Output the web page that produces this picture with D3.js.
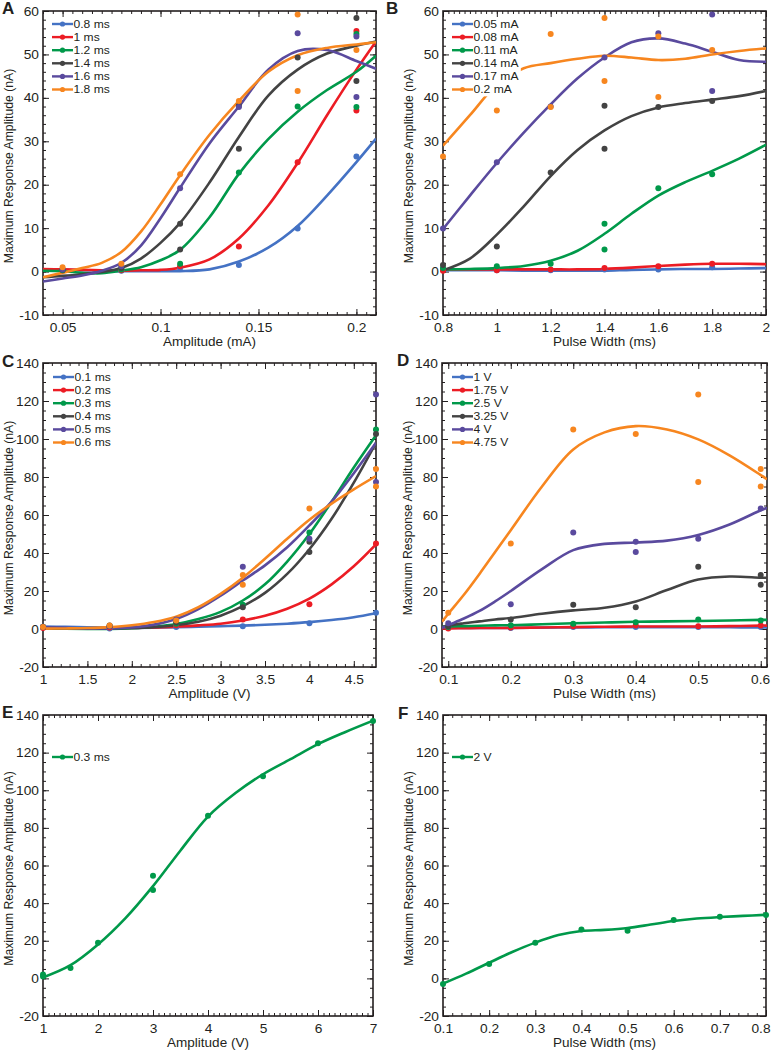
<!DOCTYPE html>
<html>
<head>
<meta charset="utf-8">
<script src="https://cdn.jsdelivr.net/npm/d3@7"></script>
<style>
  body { margin: 0; background: #fff; }
  svg { display: block; }
  text { font-family: "Liberation Sans", Arial, Helvetica, sans-serif; fill: #231f20; }
</style>
</head>
<body>
<svg id="chart" width="771" height="1050"></svg>
<script>
const colors = ["#4472c4", "#ec1c24", "#00994a", "#434343", "#5a4a9e", "#f7861f"];

// ---- A / B : same measurements, response (nA) per pulse width (row) x amplitude (col)
const pulseWidthsAB = [0.8, 1, 1.2, 1.4, 1.6, 1.8];
const amplitudesAB = [0.05, 0.08, 0.11, 0.14, 0.17, 0.2];
const responseAB = [
  [[0.5], [0.2], [0.8], [1.5], [9.9], [26.5]],
  [[0.3], [0.3], [1.2], [5.8], [25.2], [55.4, 37.1]],
  [[0.3], [0.5], [1.8], [22.8], [38], [54.7, 37.9]],
  [[0.5], [0.8], [11, 5.1], [38.2, 28.3], [49.3], [58.4, 43.9]],
  [[0.5], [1.2], [19.2], [37.9], [54.9], [54.1, 40.2]],
  [[1.0], [1.8], [22.4], [39.3], [59.2, 41.6], [51]]
];
const labelsA = ["0.8 ms", "1 ms", "1.2 ms", "1.4 ms", "1.6 ms", "1.8 ms"];
const labelsB = ["0.05 mA", "0.08 mA", "0.11 mA", "0.14 mA", "0.17 mA", "0.2 mA"];

// fitted curves
const fitXA = [0.04, 0.05, 0.06, 0.07, 0.08, 0.09, 0.1, 0.11, 0.125, 0.14, 0.155, 0.17, 0.185, 0.2, 0.21];
const fitA = [
  [0.5, 0.4, 0.3, 0.2, 0.1, 0.1, 0.1, 0.1, 0.5, 2.3, 5.5, 10.5, 17.5, 25.2, 30.6],
  [0.6, 0.5, 0.4, 0.3, 0.2, 0.3, 0.4, 0.9, 2.8, 7.6, 15.2, 25, 36, 46.5, 53],
  [0.2, 0.1, -0.3, -0.4, 0.2, 1, 2.6, 5, 12.5, 22.5, 30.5, 36.8, 41.8, 46, 49.7],
  [-1.3, -1, -0.6, -0.1, 0.8, 3, 6.6, 11.2, 20.5, 31, 40.5, 46.5, 50.2, 52, 53],
  [-2.3, -1.6, -0.9, 0.2, 2, 6, 12.3, 19.3, 29.5, 38, 46.5, 50.8, 51, 48.5, 46.7],
  [-1.3, -0.3, 0.8, 2, 4.5, 9.2, 15.5, 22.2, 31.5, 39.3, 46, 49.8, 51.5, 52.3, 52.8]
];
const fitXB = [0.8, 0.9, 1.0, 1.1, 1.2, 1.3, 1.4, 1.5, 1.6, 1.7, 1.8, 1.9, 2.0];
const fitB = [
  [0.3, 0.3, 0.3, 0.2, 0.2, 0.2, 0.2, 0.4, 0.5, 0.6, 0.6, 0.7, 0.8],
  [0.5, 0.5, 0.5, 0.5, 0.5, 0.5, 0.6, 0.9, 1.3, 1.6, 1.8, 1.8, 1.7],
  [0.5, 0.6, 0.8, 1.3, 2.5, 4.8, 8.7, 13.3, 17.5, 20.6, 23.2, 26, 29.2],
  [0.3, 3, 8.5, 15, 22, 28, 32.5, 35.8, 37.8, 38.8, 39.6, 40.4, 41.6],
  [9.8, 17.5, 25, 32, 38.5, 44.5, 49.3, 52.8, 53.7, 52.5, 50.6, 48.7, 48.3],
  [29, 36, 43, 46.8, 48, 49, 49.7, 49.3, 48.7, 49, 50, 50.8, 51.4]
];

// ---- C / D : response (nA) per pulse width (row) x voltage (col)
const pulseWidthsCD = [0.1, 0.2, 0.3, 0.4, 0.5, 0.6];
const voltagesCD = [1, 1.75, 2.5, 3.25, 4, 4.75];
const responseCD = [
  [[1.2], [0.3], [1], [1.5], [3], [8.5]],
  [[0.5], [0.8], [2], [5], [13], [45]],
  [[1], [1.5], [2.8], [12.8], [50.8], [105]],
  [[1], [1.8], [3.5], [11.4], [45.9, 40.5], [102.6]],
  [[1], [1.5], [5], [32.7], [47.5], [123.4, 77.4]],
  [[1], [1.8], [4.5], [28.4, 23.3], [63.4], [84.2, 75]]
];
const labelsC = ["0.1 ms", "0.2 ms", "0.3 ms", "0.4 ms", "0.5 ms", "0.6 ms"];
const labelsD = ["1 V", "1.75 V", "2.5 V", "3.25 V", "4 V", "4.75 V"];

const fitXC = [1, 1.25, 1.5, 1.75, 2, 2.25, 2.5, 2.75, 3, 3.25, 3.5, 3.75, 4, 4.25, 4.5, 4.75];
const fitC = [
  [1.3, 1.1, 0.9, 0.7, 0.6, 0.7, 0.9, 1.2, 1.5, 1.8, 2.2, 2.8, 3.6, 4.7, 6.2, 8.3],
  [0.3, 0.2, 0.2, 0.3, 0.5, 0.8, 1.2, 1.9, 2.8, 4.5, 7, 10.7, 16, 23.5, 33, 44.5],
  [0.5, 0.2, 0, 0, 0.4, 1.2, 2.6, 5.2, 9, 15, 23.5, 35.5, 50, 67, 85, 102],
  [0.6, 0.4, 0.3, 0.3, 0.5, 1, 2, 3.8, 7, 12, 19, 29, 42, 58, 77, 98],
  [0.9, 0.6, 0.3, 0.3, 0.8, 2.3, 5.3, 10.5, 17.5, 25.5, 33.5, 43, 54.5, 67, 82, 98],
  [0.2, 0.3, 0.5, 1, 2, 3.7, 6.5, 11.5, 18.5, 27, 37, 47.5, 57.5, 66, 73.5, 80.5]
];
const fitXD = [0.09, 0.1, 0.125, 0.15, 0.175, 0.2, 0.25, 0.3, 0.35, 0.4, 0.45, 0.5, 0.55, 0.6, 0.61];
const fitD = [
  [0.5, 0.5, 0.5, 0.5, 0.5, 0.5, 0.7, 0.8, 0.9, 1, 1, 1, 0.9, 0.8, 0.8],
  [0.3, 0.3, 0.4, 0.5, 0.5, 0.6, 0.8, 1, 1.2, 1.3, 1.3, 1.3, 1.5, 1.8, 1.8],
  [1.2, 1.3, 1.5, 1.7, 1.9, 2, 2.5, 3, 3.4, 3.8, 4, 4.2, 4.5, 4.8, 4.8],
  [1, 1.8, 3, 4, 5, 5.8, 8, 9.8, 11.2, 14.5, 20.5, 26, 27.6, 27, 27],
  [0.5, 2, 5.5, 9.5, 14.5, 20, 31.5, 41.5, 44.8, 45.5, 46.5, 49.5, 55, 62.5, 63.8],
  [3.9, 8, 18, 29, 40.5, 52, 75, 94.5, 103.5, 106.8, 105, 99.8, 91.4, 81, 78.8]
];

// ---- E / F : single series
const amplitudesE = [1, 1.5, 2, 3, 4, 5, 6, 7];
const responseE = [[2, 1], [5.5], [19], [54.5, 47], [86.5], [107.5], [125], [136.8]];
const fitXE = [1, 1.5, 2, 2.5, 3, 3.5, 4, 4.5, 5, 5.5, 6, 6.5, 7];
const fitE = [0.5, 7, 18, 32, 49, 68, 86, 98.5, 108.5, 116.5, 124.5, 131, 137];

const pulseWidthsF = [0.1, 0.2, 0.3, 0.4, 0.5, 0.6, 0.7, 0.8];
const responseF = [[-3], [7.7], [19], [26], [25.3], [31], [32.7], [33.7]];
const fitXF = [0.1, 0.15, 0.2, 0.25, 0.3, 0.35, 0.4, 0.45, 0.5, 0.55, 0.6, 0.65, 0.7, 0.75, 0.8];
const fitF = [-2.8, 2.5, 8.3, 14, 19, 23, 25.2, 25.8, 26.8, 28.6, 30.5, 31.8, 32.6, 33.2, 33.8];

// ---- tick labels
const ticksAX = [0.05, 0.1, 0.15, 0.2];
const ticksBX = [0.8, 1, 1.2, 1.4, 1.6, 1.8, 2];
const ticksABY = [-10, 0, 10, 20, 30, 40, 50, 60];
const ticksCX = [1, 1.5, 2, 2.5, 3, 3.5, 4, 4.5];
const ticksDX = [0.1, 0.2, 0.3, 0.4, 0.5, 0.6];
const ticksEX = [1, 2, 3, 4, 5, 6, 7];
const ticksFX = [0.1, 0.2, 0.3, 0.4, 0.5, 0.6, 0.7, 0.8];
const ticksCFY = [-20, 0, 20, 40, 60, 80, 100, 120, 140];

// series builders
const byRow = (rows, cols, table) => rows.map((r, i) => cols.flatMap((c, j) => table[i][j].map(v => [c, v])));
const byCol = (rows, cols, table) => cols.map((c, j) => rows.flatMap((r, i) => table[i][j].map(v => [r, v])));

const panels = [
  { letter: "A", box: [43, 11, 376, 315], letterAt: [2, 14], legendAt: [52, 24],
    xDomain: [0.04, 0.21], yDomain: [-10, 60], xTicks: ticksAX, yTicks: ticksABY, xMinor: 0.005, yMinor: 2,
    xTitle: "Amplitude (mA)", labels: labelsA, colors: colors,
    points: byRow(pulseWidthsAB, amplitudesAB, responseAB), fitX: fitXA, fits: fitA },
  { letter: "B", box: [443, 11, 766, 315], letterAt: [386, 14], legendAt: [452, 24],
    xDomain: [0.8, 2], yDomain: [-10, 60], xTicks: ticksBX, yTicks: ticksABY, xMinor: 0.02, yMinor: 2,
    xTitle: "Pulse Width (ms)", labels: labelsB, colors: colors,
    points: byCol(pulseWidthsAB, amplitudesAB, responseAB), fitX: fitXB, fits: fitB },
  { letter: "C", box: [43, 363, 376, 667], letterAt: [2, 367], legendAt: [53, 377],
    xDomain: [1, 4.75], yDomain: [-20, 140], xTicks: ticksCX, yTicks: ticksCFY, xMinor: 0.1, yMinor: 5,
    xTitle: "Amplitude (V)", labels: labelsC, colors: colors,
    points: byRow(pulseWidthsCD, voltagesCD, responseCD), fitX: fitXC, fits: fitC },
  { letter: "D", box: [442, 363, 767, 667], letterAt: [397, 366], legendAt: [452, 377],
    xDomain: [0.09, 0.61], yDomain: [-20, 140], xTicks: ticksDX, yTicks: ticksCFY, xMinor: 0.01, yMinor: 5,
    xTitle: "Pulse Width (ms)", labels: labelsD, colors: colors,
    points: byCol(pulseWidthsCD, voltagesCD, responseCD), fitX: fitXD, fits: fitD },
  { letter: "E", box: [43, 715, 373, 1016], letterAt: [2, 718], legendAt: [52, 757],
    xDomain: [1, 7], yDomain: [-20, 140], xTicks: ticksEX, yTicks: ticksCFY, xMinor: 0.1, yMinor: 5,
    xTitle: "Amplitude (V)", labels: ["0.3 ms"], colors: [colors[2]],
    points: [amplitudesE.flatMap((a, i) => responseE[i].map(v => [a, v]))], fitX: fitXE, fits: [fitE] },
  { letter: "F", box: [443, 715, 766, 1016], letterAt: [398, 719], legendAt: [452, 757],
    xDomain: [0.1, 0.8], yDomain: [-20, 140], xTicks: ticksFX, yTicks: ticksCFY, xMinor: 0.02, yMinor: 5,
    xTitle: "Pulse Width (ms)", labels: ["2 V"], colors: [colors[2]],
    points: [pulseWidthsF.flatMap((p, i) => responseF[i].map(v => [p, v]))], fitX: fitXF, fits: [fitF] }
];

const svg = d3.select("#chart");
const ink = "#231f20";
const stretch = 1.1; // figure text is a little wider than plain Arial
const pageWidth = 771;
const tickFont = 12.5;

function minorTicks(domain, step) {
  const k0 = Math.ceil(domain[0] / step - 1e-6), k1 = Math.floor(domain[1] / step + 1e-6);
  return d3.range(k0, k1 + 1).map(k => +(k * step).toFixed(6));
}

function styleAxis(sel, size) {
  sel.select(".domain").remove();
  sel.selectAll("line").attr("stroke", ink).attr("stroke-width", 1);
  sel.attr("font-family", null).attr("font-size", null);
  sel.selectAll("text").attr("font-size", size).attr("fill", ink).classed("wide", true);
}

function drawPanel(p, idx) {
  const [x0, y0, x1, y1] = p.box;
  const x = d3.scaleLinear().domain(p.xDomain).range([x0, x1]);
  const y = d3.scaleLinear().domain(p.yDomain).range([y1, y0]);
  const g = svg.append("g");
  const fmt = d => String(d);

  // ticks, all pointing inward
  [[d3.axisBottom, y1, true], [d3.axisTop, y0, false]].forEach(([axis, ty, lab]) => {
    g.append("g").attr("transform", `translate(0,${ty})`)
      .call(axis(x).tickValues(minorTicks(p.xDomain, p.xMinor)).tickSize(-3).tickFormat(""))
      .call(s => styleAxis(s, tickFont));
    g.append("g").attr("transform", `translate(0,${ty})`)
      .call(axis(x).tickValues(p.xTicks).tickSize(-6).tickPadding(8).tickFormat(lab ? fmt : ""))
      .call(s => styleAxis(s, tickFont));
  });
  [[d3.axisLeft, x0, true], [d3.axisRight, x1, false]].forEach(([axis, tx, lab]) => {
    g.append("g").attr("transform", `translate(${tx},0)`)
      .call(axis(y).tickValues(minorTicks(p.yDomain, p.yMinor)).tickSize(-3).tickFormat(""))
      .call(s => styleAxis(s, tickFont));
    g.append("g").attr("transform", `translate(${tx},0)`)
      .call(axis(y).tickValues(p.yTicks).tickSize(-6).tickPadding(4).tickFormat(lab ? fmt : ""))
      .call(s => styleAxis(s, tickFont));
  });

  g.append("rect")
    .attr("x", x0).attr("y", y0).attr("width", x1 - x0).attr("height", y1 - y0)
    .attr("fill", "none").attr("stroke", ink).attr("stroke-width", 1.6);

  // titles
  g.append("text").attr("class", "wide")
    .attr("x", (x0 + x1) / 2).attr("y", y1 + 31)
    .attr("text-anchor", "middle").attr("font-size", 12.3)
    .text(p.xTitle);
  g.append("text")
    .attr("transform", `translate(${x0 - 30},${(y0 + y1) / 2 + 3}) rotate(-90)`)
    .attr("text-anchor", "middle").attr("font-size", 12.2)
    .text("Maximum Response Amplitude (nA)");
  g.append("text")
    .attr("x", p.letterAt[0]).attr("y", p.letterAt[1])
    .attr("font-size", 17).attr("font-weight", "bold")
    .text(p.letter);

  // fitted curves
  const clipId = "clip" + idx;
  svg.append("clipPath").attr("id", clipId)
    .append("rect").attr("x", x0).attr("y", y0).attr("width", x1 - x0).attr("height", y1 - y0);
  const line = d3.line().x(d => x(d[0])).y(d => y(d[1])).curve(d3.curveCatmullRom.alpha(0.5));
  p.fits.forEach((vals, i) => {
    g.append("path")
      .attr("clip-path", `url(#${clipId})`)
      .attr("d", line(p.fitX.map((xv, k) => [xv, vals[k]])))
      .attr("fill", "none").attr("stroke", p.colors[i]).attr("stroke-width", 2.6)
      .attr("stroke-linejoin", "round");
  });

  // measured points
  p.points.forEach((pts, i) => {
    g.append("g").selectAll("circle").data(pts).join("circle")
      .attr("cx", d => x(d[0])).attr("cy", d => y(d[1])).attr("r", 3)
      .attr("fill", p.colors[i]);
  });

  // legend
  const [lx, ly] = p.legendAt;
  const lg = g.append("g").attr("class", "legend");
  p.labels.forEach((lab, i) => {
    const row = lg.append("g").attr("transform", `translate(${lx},${ly + i * 13.1})`);
    row.append("line").attr("x1", 0).attr("x2", 21).attr("stroke", p.colors[i]).attr("stroke-width", 2.4);
    row.append("circle").attr("cx", 10.5).attr("r", 2.6).attr("fill", p.colors[i]);
    row.append("text").attr("class", "wide").attr("x", 21.5).attr("dy", "0.36em")
      .attr("font-size", 11).text(lab);
  });
}

panels.forEach(drawPanel);

// widen horizontal text around its anchor point to match the figure's proportions
svg.selectAll("text.wide").each(function () {
  const t = d3.select(this);
  const ax = +t.attr("x") || 0, ay = +t.attr("y") || 0;
  t.attr("transform", `translate(${ax},${ay}) scale(${stretch},1) translate(${-ax},${-ay})`);
  // keep labels at the right edge inside the page
  const r = this.getBoundingClientRect().right;
  if (r > pageWidth - 1) {
    const shift = (r - pageWidth + 1) / stretch;
    t.attr("x", ax - shift);
    t.attr("transform", `translate(${ax - shift},${ay}) scale(${stretch},1) translate(${-(ax - shift)},${-ay})`);
  }
});

// white legend boxes hide the curves underneath
svg.selectAll("g.legend").each(function () {
  const b = this.getBBox();
  d3.select(this).insert("rect", ":first-child")
    .attr("x", b.x - 3).attr("y", b.y - 1).attr("width", b.width + 5).attr("height", b.height + 2)
    .attr("fill", "#fff");
});
</script>
</body>
</html>
